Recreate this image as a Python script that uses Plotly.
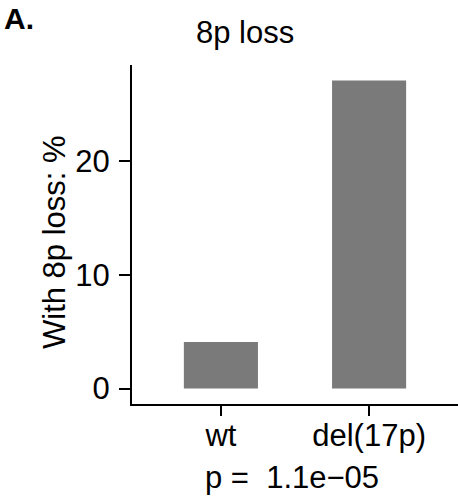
import plotly.graph_objects as go

categories = ["wt", "del(17p)"]
values = [4.1, 27.1]
y_ticks = [0, 10, 20]
title_text = "8p loss"
y_title = "With 8p loss: %"
p_text = "p =  1.1e\u221205"
panel_label = "A."

FONT = "Liberation Sans, Arial, sans-serif"
FS = 31

fig = go.Figure(
    go.Bar(
        x=[1, 2],
        y=values,
        width=0.5,
        marker=dict(color="#7a7a7a", line=dict(width=0)),
        hoverinfo="skip",
    )
)

W, H = 458, 502
L, R, T, B = 132, 0, 65, 98
PW, PH = W - L - R, H - T - B


def px_x(px):
    return (px - L) / PW


def px_y(py):
    return (H - B - py) / PH


fig.update_layout(
    width=W,
    height=H,
    margin=dict(l=L, r=R, t=T, b=B),
    paper_bgcolor="white",
    plot_bgcolor="white",
    showlegend=False,
    font=dict(family=FONT, color="black", size=FS),
    xaxis=dict(
        range=[0.4, 2.6],
        tickvals=[1, 2],
        ticktext=categories,
        showline=True,
        linecolor="black",
        linewidth=2,
        ticks="outside",
        ticklen=10,
        tickwidth=2,
        tickcolor="black",
        ticklabelstandoff=-7,
        showgrid=False,
        zeroline=False,
        tickfont=dict(size=FS, family=FONT, color="black"),
        fixedrange=True,
    ),
    yaxis=dict(
        range=[-1.36, 28.46],
        tickvals=y_ticks,
        showline=True,
        linecolor="black",
        linewidth=2,
        ticks="outside",
        ticklen=11,
        tickwidth=2,
        tickcolor="black",
        ticklabelstandoff=3,
        showgrid=False,
        zeroline=False,
        tickfont=dict(size=FS, family=FONT, color="black"),
        fixedrange=True,
    ),
    annotations=[
        dict(
            text=title_text, xref="paper", yref="paper",
            x=px_x(245), y=px_y(32),
            xanchor="center", yanchor="middle", showarrow=False,
            font=dict(size=FS, family=FONT, color="black"),
        ),
        dict(
            text=y_title, xref="paper", yref="paper",
            x=px_x(55), y=px_y(242), textangle=-90,
            xanchor="center", yanchor="middle", showarrow=False,
            font=dict(size=FS, family=FONT, color="black"),
        ),
        dict(
            text=p_text, xref="paper", yref="paper",
            x=px_x(292), y=px_y(477),
            xanchor="center", yanchor="middle", showarrow=False,
            font=dict(size=FS, family=FONT, color="black"),
        ),
        dict(
            text="<b>" + panel_label + "</b>", xref="paper", yref="paper",
            x=px_x(2), y=px_y(0),
            xanchor="left", yanchor="top", showarrow=False,
            font=dict(size=30, family=FONT, color="black"),
        ),
    ],
)

fig.write_html(
    "out.html",
    config={"displayModeBar": False},
    post_script="document.body.style.margin='0';document.body.style.overflow='hidden';",
)
